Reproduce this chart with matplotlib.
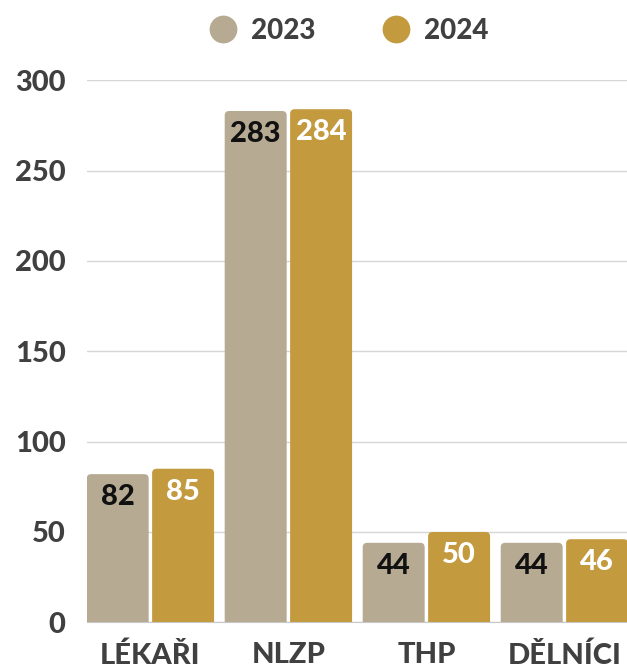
import matplotlib.pyplot as plt
import numpy as np
from matplotlib.lines import Line2D
from matplotlib.patches import FancyBboxPatch

# ── data ──────────────────────────────────────
categories = ["LÉKAŘI", "NLZP", "THP", "DĚLNÍCI"]
series = ["2023", "2024"]
values_2023 = [82, 283, 44, 44]
values_2024 = [85, 284, 50, 46]
y_ticks = [0, 50, 100, 150, 200, 250, 300]

# ── style ─────────────────────────────────────
COLORS = ["#b6aa92", "#c49a3f"]
LABEL_COLORS = ["#111111", "#ffffff"]
TEXT = "#404040"
GRID = "#d6d6d6"
FONT = ["Lato", "DejaVu Sans"]
WEIGHT = 900

plt.rcParams["font.family"] = FONT
plt.rcParams["font.weight"] = WEIGHT

W, H, DPI = 627, 664, 100
fig = plt.figure(figsize=(W / DPI, H / DPI), dpi=DPI)

left_px, right_px = 86.7, 627
top_px, bottom_px = 80.3, 622.3
ax = fig.add_axes([left_px / W, 1 - bottom_px / H,
                   (right_px - left_px) / W, (bottom_px - top_px) / H])

x = np.arange(len(categories))
bar_w = 0.449
offset = 0.237

ax.set_xlim(-offset - bar_w / 2, -offset - bar_w / 2 + (right_px - left_px) / 138)
ax.set_ylim(0, 300)

# data → pixel scale, for rounded corners
px_x = ax.transData.transform((1, 0))[0] - ax.transData.transform((0, 0))[0]
px_y = ax.transData.transform((0, 1))[1] - ax.transData.transform((0, 0))[1]
radius_px = 4.5
r_x = radius_px / px_x
aspect = px_x / px_y

for i, vals in enumerate([values_2023, values_2024]):
    pos = x + (i * 2 - 1) * offset
    bars = ax.bar(pos, vals, bar_w, color=COLORS[i], zorder=2)
    for b in bars:
        x0, w, h = b.get_x(), b.get_width(), b.get_height()
        b.remove()
        pad_y = r_x * aspect
        patch = FancyBboxPatch((x0, -pad_y), w, h + pad_y,
                               boxstyle=f"round,pad=0,rounding_size={r_x}",
                               mutation_aspect=aspect,
                               facecolor=COLORS[i], edgecolor="none", zorder=2)
        ax.add_patch(patch)
        ax.annotate(f"{h:g}", (x0 + w / 2, h), xytext=(0, -31 * 72 / DPI),
                    textcoords="offset points", ha="center", va="baseline",
                    fontsize=21, fontweight=WEIGHT, color=LABEL_COLORS[i],
                    zorder=3)

# ── axes ──────────────────────────────────────
ax.set_yticks(y_ticks)
ax.set_yticklabels([str(t) for t in y_ticks])
ax.set_xticks(x)
ax.set_xticklabels(categories)
ax.tick_params(axis="y", length=0, pad=21 * 72 / DPI, labelsize=21,
               labelcolor=TEXT)
ax.tick_params(axis="x", length=0, pad=20 * 72 / DPI, labelsize=21,
               labelcolor=TEXT)
for lab in ax.get_xticklabels() + ax.get_yticklabels():
    lab.set_fontweight(WEIGHT)

ax.grid(axis="y", color=GRID, lw=1, zorder=0)
ax.set_axisbelow(True)
for s in ["top", "right", "left"]:
    ax.spines[s].set_visible(False)
ax.spines["bottom"].set_color("#c8c8c8")
ax.spines["bottom"].set_zorder(1)

# ── legend ────────────────────────────────────
handles = [Line2D([], [], marker="o", ls="none", markersize=20,
                  markerfacecolor=c, markeredgecolor="none") for c in COLORS]
fig.legend(handles, series, loc="center", bbox_to_anchor=(349 / W, 1 - 31 / H),
           ncol=2, frameon=False, handlelength=1.0, handletextpad=0.5,
           columnspacing=2.4, prop={"family": FONT, "weight": WEIGHT, "size": 20},
           labelcolor=TEXT, borderaxespad=0, borderpad=0)

fig.savefig("out.png", dpi=DPI)
